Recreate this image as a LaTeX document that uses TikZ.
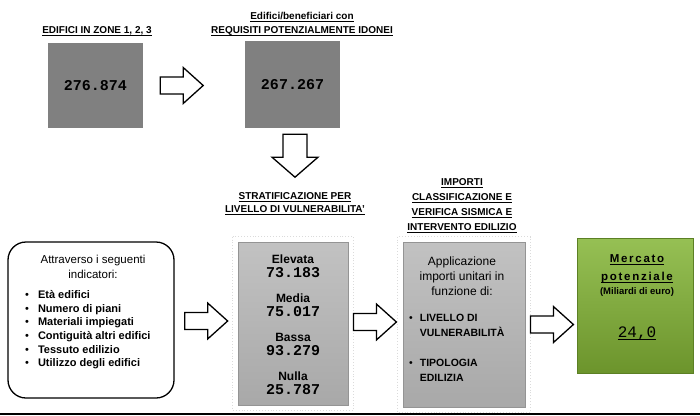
\documentclass[tikz,border=0pt]{standalone}
\usepackage{fontspec}
\setmainfont{Liberation Sans}
\newfontfamily\monofont{Liberation Mono}
\usetikzlibrary{calc}
\definecolor{boxgray}{RGB}{128,128,128}
\definecolor{greentop}{RGB}{150,192,84}
\definecolor{greenbot}{RGB}{108,148,44}
\definecolor{greenline}{RGB}{92,128,36}
\newcommand\ulx[1]{\setbox0\hbox{#1}\rlap{\rule[-2.2pt]{\wd0}{0.8pt}}\box0}
\tikzset{
  ttl/.style={font=\bfseries\fontsize{10}{15}\selectfont, align=center, inner sep=0pt},
  darkbox/.style={fill=boxgray, draw=none, inner sep=0pt},
  bignum/.style={font=\monofont\bfseries\fontsize{15}{15}\selectfont},
  lightbox/.style={draw=black!42, line width=0.8pt, top color=black!24, bottom color=black!34, inner sep=0pt},
  dotframe/.style={draw=black!14, dotted, line width=0.9pt},
  txt/.style={inner sep=0pt, align=center},
  rarrow/.pic={\draw[line width=1.3pt, fill=white, line join=miter] (0,-8.5) -- (23,-8.5) -- (23,-18) -- (43,0) -- (23,18) -- (23,8.5) -- (0,8.5) -- cycle;},
}
\begin{document}
\begin{tikzpicture}[x=1pt,y=-1pt]
\useasboundingbox (0,0) rectangle (700,415);
% top row
\node[ttl] (t1) at (97,31) {\ulx{EDIFICI IN ZONE 1, 2, 3}};
\node[darkbox, minimum width=95pt, minimum height=85pt, bignum] (b1) at (95.5,85.5) {276.874};
\node[ttl, font=\bfseries\fontsize{10}{14.5}\selectfont] (t2) at (302,24) {\ulx{Edifici/beneficiari con}\\\ulx{REQUISITI POTENZIALMENTE IDONEI}};
\node[darkbox, minimum width=95pt, minimum height=87pt, bignum] (b2) at (292.5,84.5) {267.267};
\pic at ($(b1.east)+(17,0)$) {rarrow};
% down arrow
\draw[line width=1.3pt, fill=white, line join=miter] ($(b2.south)+(-9.5,6)$) coordinate (d0) -- ++(24,0) -- ++(0,23) -- ++(11,0) -- ++(-23,20) -- ++(-23,-20) -- ++(11,0) -- cycle;
% titles bottom
\node[ttl, font=\bfseries\fontsize{10}{13}\selectfont] (t3) at (295,203.5) {\ulx{STRATIFICAZIONE PER}\\\ulx{LIVELLO DI VULNERABILITA'}};
\node[ttl, font=\bfseries\fontsize{10}{15}\selectfont] (t4) at (462,206) {\ulx{IMPORTI}\\\ulx{CLASSIFICAZIONE E}\\\ulx{VERIFICA SISMICA E}\\\ulx{INTERVENTO EDILIZIO}};
% left rounded box
\node[draw, line width=1.3pt, rounded corners=18pt, fill=white, minimum width=166pt, minimum height=156pt] (rb) at (91,320) {};
\node[txt, font=\fontsize{11.5}{15}\selectfont] (rbh) at (93,266.5) {Attraverso i seguenti\\indicatori:};
\node[inner sep=0pt, anchor=west, font=\bfseries\fontsize{11}{13.6}\selectfont] (rbl) at (25,330)
 {\begin{tabular}{@{}l@{\hspace{9pt}}l@{}}
 {\mdseries\textbullet} & Età edifici\\
 {\mdseries\textbullet} & Numero di piani\\
 {\mdseries\textbullet} & Materiali impiegati\\
 {\mdseries\textbullet} & Contiguità altri edifici\\
 {\mdseries\textbullet} & Tessuto edilizio\\
 {\mdseries\textbullet} & Utilizzo degli edifici
 \end{tabular}};
\pic at ($(rb.east)+(10,1)$) {rarrow};
% stratification box
\node[lightbox, minimum width=110pt, minimum height=163pt] (sb) at (293,323.5) {};
\draw[dotframe] ($(sb.north west)+(-5,-5)$) rectangle ($(sb.south east)+(5,5)$);
\node[txt, font=\bfseries\fontsize{12}{14}\selectfont] (sbt) at (293,325)
 {Elevata\\{\monofont\fontsize{15}{14}\selectfont 73.183}\\[11pt]
  Media\\{\monofont\fontsize{15}{14}\selectfont 75.017}\\[11pt]
  Bassa\\{\monofont\fontsize{15}{14}\selectfont 93.279}\\[11pt]
  Nulla\\{\monofont\fontsize{15}{14}\selectfont 25.787}};
\pic at ($(sb.east)+(5,-1.5)$) {rarrow};
% importi box
\node[lightbox, minimum width=122pt, minimum height=165pt] (ib) at (464,324.5) {};
\draw[dotframe] ($(ib.north west)+(-5,-5)$) rectangle ($(ib.south east)+(5,5)$);
\node[txt, font=\fontsize{12}{15}\selectfont] (ibh) at (462,276) {Applicazione\\importi unitari in\\funzione di:};
\node[inner sep=0pt, anchor=west, font=\bfseries\fontsize{10.5}{15}\selectfont] (ibl) at (409,348)
 {\begin{tabular}{@{}l@{\hspace{7pt}}l@{}}
 {\mdseries\textbullet} & LIVELLO DI\\
  & VULNERABILITÀ\\[15pt]
 {\mdseries\textbullet} & TIPOLOGIA\\
  & EDILIZIA
 \end{tabular}};
\pic at ($(ib.east)+(5,0)$) {rarrow};
% green box
\node[draw=greenline, line width=0.8pt, top color=greentop, bottom color=greenbot, minimum width=116pt, minimum height=135pt, inner sep=0pt] (gb) at (635,305.5) {};
\node[txt, font=\bfseries\fontsize{11.5}{18}\selectfont\addfontfeatures{LetterSpace=15}] (gt1) at (637,269) {\ulx{Mercato}\\\ulx{potenziale}};
\node[txt, font=\bfseries\fontsize{9.5}{11}\selectfont] (gt2) at (637,292.5) {(Miliardi di euro)};
\node[txt, font=\monofont\fontsize{16}{16}\selectfont] (gt3) at (637,334) {\ulx{24,0}};
% bottom rule
\fill (0,412.5) rectangle (700,415);
\end{tikzpicture}
\end{document}
